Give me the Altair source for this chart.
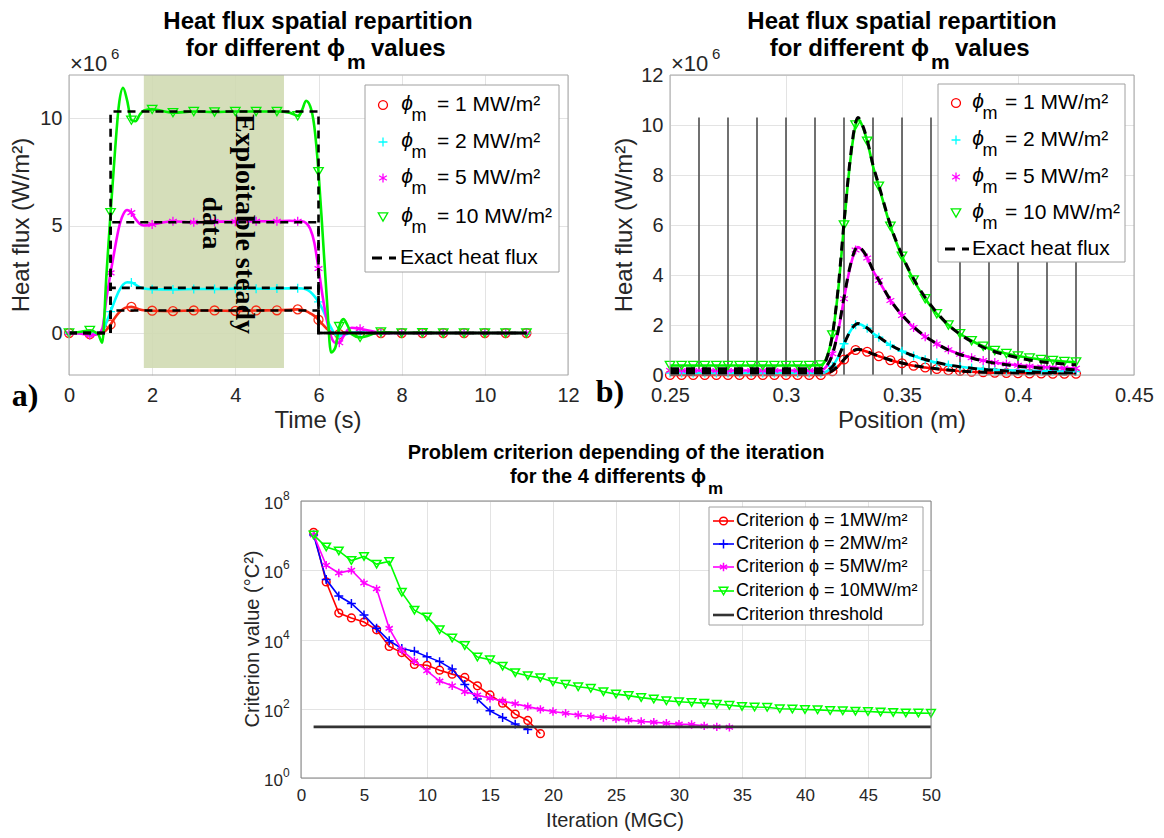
import altair as alt
import pandas as pd

SANS = "Liberation Sans, Arial, Helvetica, sans-serif"
SERIF = "Liberation Serif, Times New Roman, serif"
INK = "#262626"

# ---------------- Panel a : heat flux vs time (values in 1e6 W/m2) ----------------
time_s = [0, 0.25, 0.5, 0.7, 0.8, 0.9, 1.0, 1.1, 1.2, 1.3, 1.4, 1.5, 1.6, 1.7, 1.8, 2.0,
          2.5, 3.0, 3.5, 4.0, 4.5, 5.0, 5.3, 5.5, 5.6, 5.7, 5.8, 5.9, 6.0, 6.1, 6.2, 6.3,
          6.4, 6.5, 6.6, 6.7, 6.8, 7.0, 7.5, 8.0, 8.5, 9.0, 9.5, 10.0, 10.5, 11.0]
flux_a_phi1 = [0, 0, -0.05, -0.02, 0, 0.15, 0.4, 0.7, 0.95, 1.12, 1.2, 1.22, 1.17, 1.1, 1.06, 1.04,
               1.02, 1.05, 1.05, 1.03, 1.05, 1.06, 1.08, 1.1, 1.08, 1.02, 0.92, 0.8, 0.62, 0.4, 0.2, 0.05,
               -0.05, -0.05, 0, 0.02, 0.02, 0, 0, 0, 0, 0, 0, 0, 0, 0]
flux_a_phi2 = [0, 0, -0.03, 0, 0.05, 0.5, 1.0, 1.5, 1.95, 2.25, 2.36, 2.35, 2.25, 2.13, 2.07, 2.04,
               2.03, 2.05, 2.05, 2.06, 2.06, 2.07, 2.08, 2.08, 2.07, 2.03, 1.92, 1.72, 1.45, 1.1, 0.65, 0.25,
               -0.05, -0.12, -0.1, -0.03, 0.02, 0.03, 0, 0, 0, 0, 0, 0, 0, 0]
flux_a_phi5 = [0, -0.02, -0.1, -0.05, 0.2, 1.6, 2.8, 3.9, 4.9, 5.5, 5.72, 5.6, 5.3, 5.08, 5.0, 5.05,
               5.2, 5.15, 5.18, 5.18, 5.2, 5.2, 5.22, 5.2, 5.2, 5.12, 4.85, 4.2, 3.0, 1.7, 0.6, -0.15,
               -0.45, -0.45, -0.15, 0.15, 0.25, 0.2, 0.02, 0, 0, 0, 0, 0, 0, 0]
flux_a_phi10 = [0, 0.05, 0.12, -0.05, -0.45, 2.7, 5.6, 8.3, 10.6, 11.4, 10.8, 9.9, 9.85, 10.15, 10.35, 10.4,
                10.25, 10.3, 10.28, 10.3, 10.3, 10.3, 10.25, 10.1, 10.35, 10.8, 10.55, 9.6, 7.5, 4.6, 1.6, -0.9,
                -0.7, 0.3, 0.65, 0.35, -0.05, -0.2, 0.05, 0, 0.02, 0, 0, 0, 0, 0]
exact_a_levels = [1.05, 2.1, 5.15, 10.3]
exact_a_time = [0, 1, 1, 6, 6, 11]
shade_time = [1.8, 5.17]
shade_flux = [-1.62, 12]

# ---------------- Panel b : heat flux vs position (values in 1e6 W/m2) ----------------
position_m = [0.25, 0.255, 0.26, 0.265, 0.27, 0.275, 0.28, 0.285, 0.29, 0.295, 0.30, 0.305, 0.31, 0.315,
              0.3175, 0.32, 0.3225, 0.325, 0.3275, 0.33, 0.331, 0.3325, 0.335, 0.3375, 0.34,
              0.345, 0.35, 0.355, 0.36, 0.365, 0.37, 0.375, 0.38, 0.385, 0.39, 0.395, 0.40,
              0.405, 0.41, 0.415, 0.42, 0.425]
flux_b_phi1 = [0, 0, 0, 0, 0, 0, 0, 0, 0, 0, 0, 0, 0, 0,
               0.04, 0.15, 0.35, 0.62, 0.86, 1.0, 1.02, 1.0, 0.93, 0.83, 0.75,
               0.59, 0.47, 0.37, 0.3, 0.24, 0.19, 0.16, 0.13, 0.11, 0.09, 0.08, 0.07,
               0.06, 0.06, 0.05, 0.05, 0.05]
flux_b_phi2 = [0.08, 0.08, 0.08, 0.08, 0.08, 0.08, 0.08, 0.08, 0.08, 0.08, 0.08, 0.08, 0.08, 0.08,
               0.14, 0.35, 0.72, 1.25, 1.72, 2.01, 2.05, 2.01, 1.87, 1.67, 1.51,
               1.19, 0.95, 0.76, 0.61, 0.49, 0.4, 0.33, 0.28, 0.24, 0.21, 0.19, 0.18,
               0.17, 0.16, 0.15, 0.15, 0.14]
flux_b_phi5 = [0.18, 0.18, 0.18, 0.18, 0.18, 0.18, 0.18, 0.18, 0.18, 0.18, 0.18, 0.18, 0.18, 0.19,
               0.35, 0.85, 1.75, 3.05, 4.25, 5.0, 5.12, 5.02, 4.68, 4.18, 3.78,
               2.98, 2.38, 1.9, 1.53, 1.24, 1.01, 0.83, 0.69, 0.58, 0.5, 0.44, 0.39,
               0.35, 0.32, 0.3, 0.28, 0.27]
flux_b_phi10 = [0.38, 0.38, 0.38, 0.38, 0.38, 0.38, 0.38, 0.38, 0.38, 0.38, 0.38, 0.38, 0.38, 0.4,
                0.7, 1.6, 3.4, 6.0, 8.4, 10.0, 10.25, 10.05, 9.35, 8.35, 7.55,
                5.95, 4.75, 3.8, 3.05, 2.45, 2.0, 1.65, 1.37, 1.15, 0.98, 0.86, 0.76,
                0.68, 0.62, 0.58, 0.54, 0.52]
exact_b_phi1 = [0.04, 0.04, 0.04, 0.04, 0.04, 0.04, 0.04, 0.04, 0.04, 0.04, 0.04, 0.04, 0.04, 0.04,
                0.07, 0.17, 0.36, 0.62, 0.86, 1.01, 1.03, 1.01, 0.94, 0.84, 0.76,
                0.6, 0.48, 0.38, 0.31, 0.25, 0.2, 0.16, 0.13, 0.11, 0.09, 0.08, 0.07,
                0.06, 0.05, 0.05, 0.04, 0.04]
exact_b_phi2 = [0.08, 0.08, 0.08, 0.08, 0.08, 0.08, 0.08, 0.08, 0.08, 0.08, 0.08, 0.08, 0.08, 0.08,
                0.14, 0.33, 0.71, 1.24, 1.72, 2.02, 2.06, 2.02, 1.88, 1.68, 1.52,
                1.2, 0.96, 0.77, 0.62, 0.5, 0.4, 0.33, 0.27, 0.22, 0.19, 0.16, 0.14,
                0.12, 0.11, 0.1, 0.09, 0.08]
exact_b_phi5 = [0.15, 0.15, 0.15, 0.15, 0.15, 0.15, 0.15, 0.15, 0.15, 0.15, 0.15, 0.15, 0.15, 0.15,
                0.35, 0.82, 1.78, 3.1, 4.3, 5.05, 5.15, 5.05, 4.7, 4.2, 3.8,
                3.0, 2.4, 1.93, 1.55, 1.25, 1.0, 0.82, 0.68, 0.56, 0.47, 0.41, 0.35,
                0.31, 0.28, 0.25, 0.23, 0.21]
exact_b_phi10 = [0.25, 0.25, 0.25, 0.25, 0.25, 0.25, 0.25, 0.25, 0.25, 0.25, 0.25, 0.25, 0.25, 0.25,
                 0.65, 1.6, 3.5, 6.1, 8.5, 10.1, 10.3, 10.1, 9.4, 8.4, 7.6,
                 6.0, 4.8, 3.85, 3.1, 2.5, 2.0, 1.63, 1.34, 1.11, 0.93, 0.8, 0.69,
                 0.6, 0.53, 0.48, 0.44, 0.41]
sensor_positions = [0.2625, 0.275, 0.2875, 0.3, 0.3125, 0.325, 0.3375, 0.35, 0.3625,
                    0.375, 0.3875, 0.4, 0.4125, 0.425]
sensor_top = 10.3

# ---------------- Panel c : criterion vs iteration ----------------
crit_phi1 = [1.25e7, 4.6e5, 5.8e4, 4.2e4, 3.2e4, 1.9e4, 6.3e3, 4.2e3, 1.9e3, 1.8e3, 1.3e3, 1.0e3,
             800, 460, 250, 145, 70, 46, 19]
crit_phi2 = [1.05e7, 5.4e5, 1.8e5, 1.1e5, 5.1e4, 2.1e4, 9.2e3, 5.5e3, 4.6e3, 3.2e3, 2.3e3, 1.4e3,
             500, 190, 87, 56, 36, 25]
crit_phi5 = [1.05e7, 1.4e6, 8.3e5, 1.0e6, 4.3e5, 2.9e5, 2.1e4, 4.9e3, 2.4e3, 1.25e3, 630, 460,
             310, 250, 200, 167, 140, 115, 96, 83, 74, 66, 59, 56, 51, 47, 43, 41, 38, 36,
             35, 32, 30, 29]
crit_phi10 = [1.05e7, 4.7e6, 3.6e6, 1.9e6, 2.5e6, 1.5e6, 1.8e6, 2.3e5, 7.0e4, 4.5e4, 1.9e4, 1.1e4,
              6.7e3, 3.1e3, 2.6e3, 1.7e3, 1.1e3, 900, 780, 600, 510, 430, 390, 310, 265, 240,
              210, 190, 170, 160, 152, 145, 135, 126, 117, 112, 110, 100, 98, 95, 93, 89, 87,
              85, 83, 80, 78, 76, 75, 74]
threshold_value = 30
threshold_iters = [1, 50]
decade_ticks = [1, 1e2, 1e4, 1e6, 1e8]
decade_exponents = ["0", "2", "4", "6", "8"]

# ---------------- helpers ----------------
ONE = pd.DataFrame({"k": [0]})
PLUS = "M-1,0L1,0M0,-1L0,1"
STAR = "M0,-1L0,1M-0.87,-0.5L0.87,0.5M-0.87,0.5L0.87,-0.5"


def txt(s, x, y, size=20, bold=False, italic=False, font=SANS, align="center",
        angle=0, color=INK):
    kw = dict(text=s, font=font, fontSize=size, align=align, baseline="middle", color=color)
    if bold:
        kw["fontWeight"] = "bold"
    if italic:
        kw["fontStyle"] = "italic"
    if angle:
        kw["angle"] = angle
    return alt.Chart(ONE).mark_text(**kw).encode(x=alt.value(x), y=alt.value(y))


def hline(x1, x2, y, color, width=2, dash=None):
    kw = dict(color=color, strokeWidth=width)
    if dash:
        kw["strokeDash"] = dash
    return alt.Chart(ONE).mark_rule(**kw).encode(x=alt.value(x1), x2=alt.value(x2), y=alt.value(y))


def rect(x1, x2, y1, y2, stroke, fill=None, width=1):
    if fill:
        m = alt.Chart(ONE).mark_rect(fill=fill, stroke=stroke, strokeWidth=width)
    else:
        m = alt.Chart(ONE).mark_rect(fillOpacity=0, stroke=stroke, strokeWidth=width)
    return m.encode(x=alt.value(x1), x2=alt.value(x2), y=alt.value(y1), y2=alt.value(y2))


def sym(x, y, shape, color, size, width=1.3):
    return alt.Chart(ONE).mark_point(shape=shape, filled=False, color=color, size=size,
                                     strokeWidth=width, opacity=1).encode(
        x=alt.value(x), y=alt.value(y))


def series(xs, ys, xenc, yenc, color, shape, size, lw, mark_every, interp="monotone", mw=1.3):
    df = pd.DataFrame({"x": xs, "v": ys})
    df["mk"] = [mark_every(x) for x in xs]
    line = alt.Chart(df).mark_line(color=color, strokeWidth=lw, interpolate=interp).encode(
        x=xenc, y=yenc)
    pts = alt.Chart(df[df["mk"]]).mark_point(shape=shape, filled=False, color=color, size=size,
                                             strokeWidth=mw, opacity=1).encode(x=xenc, y=yenc)
    return [line, pts]


# ---------------- Panel a ----------------
WA, HA = 499, 300
xa = alt.X("x:Q", scale=alt.Scale(domain=[0, 12], nice=False, zero=False),
           axis=alt.Axis(values=[0, 2, 4, 6, 8, 10, 12], title=None, ticks=False, domain=False,
                         labelPadding=10, format="d"))
ya = alt.Y("v:Q", scale=alt.Scale(domain=[-1.95, 12], nice=False, zero=False),
           axis=alt.Axis(values=[0, 5, 10], title=None, ticks=False, domain=False,
                         labelPadding=7, format="d"))

shade_df = pd.DataFrame({"x": [shade_time[0]], "x2": [shade_time[1]],
                         "v": [shade_flux[0]], "v2": [shade_flux[1]]})
layers_a = [alt.Chart(shade_df).mark_rect(color="#cfd9b0", opacity=0.88).encode(
    x=xa, x2="x2:Q", y=ya, y2="v2:Q")]

half = lambda t: abs(t * 2 - round(t * 2)) < 1e-9
a_series = [(flux_a_phi1, "#fa2a14", "circle", 80),
            (flux_a_phi2, "#00ffff", PLUS, 80),
            (flux_a_phi5, "#ff00ff", STAR, 80),
            (flux_a_phi10, "#00f000", "triangle-down", 90)]
for ys, col, shp, sz in a_series:
    layers_a += series(time_s, ys, xa, ya, col, shp, sz, 2.6, half)
for lev in exact_a_levels:
    edf = pd.DataFrame({"x": exact_a_time, "v": [0, 0, lev, lev, 0, 0]})
    layers_a.append(alt.Chart(edf).mark_line(color="black", strokeWidth=2.6,
                                             strokeDash=[8, 6]).encode(x=xa, y=ya))

layers_a += [
    txt("Exploitable steady", 175, 149, 28, bold=True, font=SERIF, angle=90, color="black"),
    txt("data", 142, 148, 28, bold=True, font=SERIF, angle=90, color="black"),
    rect(0, WA, 0, HA, "#a6a6a6"),
]


def legend_ab(x1, x2, y1, y2, rows, mx, phix, tx, dash1, dash2, etx):
    L = [rect(x1, x2, y1, y2, "#a0a0a0", fill="white")]
    entries = [("circle", "#ff0000", 80, "= 1 MW/m²"), (PLUS, "#00ffff", 80, "= 2 MW/m²"),
               (STAR, "#ff00ff", 80, "= 5 MW/m²"), ("triangle-down", "#00f000", 90, "= 10 MW/m²")]
    for i, (shp, col, sz, lab) in enumerate(entries):
        y = rows[i]
        L += [sym(mx, y, shp, col, sz),
              txt("ϕ", phix, y - 1, 21, italic=True, color="black"),
              txt("m", phix + 12, y + 11, 18, color="black"),
              txt(lab, tx, y, 21, align="left", color="black")]
    L += [hline(dash1, dash2, rows[4], "black", 3, [10, 7]),
          txt("Exact heat flux", etx, rows[4], 21, align="left", color="black")]
    return L


layers_a += legend_ab(296, 490, 10, 197, [30, 67, 103, 142, 183], 314, 338, 368, 303, 327, 331)
layers_a += [
    txt("Heat flux spatial repartition", 249, -53, 24, bold=True, color="black"),
    txt("for different ϕ", 276, -26, 24, bold=True, align="right", color="black"),
    txt("m", 278, -12, 21, bold=True, align="left", color="black"),
    txt("values", 302, -26, 24, bold=True, align="left", color="black"),
    txt("×10", 1, -11, 22, align="left"),
    txt("6", 42, -21, 15, align="left"),
    txt("Heat flux (W/m²)", -47, 150, 24, angle=270),
    txt("Time (s)", 249, 346, 24),
    txt("a)", -44, 321, 32, bold=True, font=SERIF, color="black"),
]
panel_a = alt.layer(*layers_a).properties(width=WA, height=HA)

# ---------------- Panel b ----------------
WB, HB = 464, 300
xb = alt.X("x:Q", scale=alt.Scale(domain=[0.25, 0.45], nice=False, zero=False),
           axis=alt.Axis(values=[0.25, 0.3, 0.35, 0.4, 0.45], title=None, ticks=False,
                         domain=False, labelPadding=10, format=".2~f"))
yb = alt.Y("v:Q", scale=alt.Scale(domain=[0, 12], nice=False, zero=False),
           axis=alt.Axis(values=[0, 2, 4, 6, 8, 10, 12], title=None, ticks=False, domain=False,
                         labelPadding=7, format="d"))
sens_df = pd.DataFrame({"x": sensor_positions, "v": [0] * len(sensor_positions),
                        "v2": [sensor_top] * len(sensor_positions)})
layers_b = [alt.Chart(sens_df).mark_rule(color="#4d4d4d", strokeWidth=1.6).encode(
    x=xb, y=yb, y2="v2:Q")]
five = lambda p: abs(p * 200 - round(p * 200)) < 1e-6
b_series = [(flux_b_phi1, "#ff0000", "circle", 80),
            (flux_b_phi2, "#00ffff", PLUS, 80),
            (flux_b_phi5, "#ff00ff", STAR, 80),
            (flux_b_phi10, "#00f000", "triangle-down", 90)]
for ys, col, shp, sz in b_series:
    layers_b += series(position_m, ys, xb, yb, col, shp, sz, 2.6, five)
for ys in [exact_b_phi1, exact_b_phi2, exact_b_phi5, exact_b_phi10]:
    edf = pd.DataFrame({"x": position_m, "v": ys})
    layers_b.append(alt.Chart(edf).mark_line(color="black", strokeWidth=3, strokeDash=[9, 7],
                                             interpolate="monotone").encode(x=xb, y=yb))
layers_b.append(rect(0, WB, 0, HB, "#a6a6a6"))
layers_b += legend_ab(268, 455, 9, 187, [28, 65, 102, 138, 174], 286, 308, 335, 275, 299, 302)
layers_b += [
    txt("Heat flux spatial repartition", 232, -53, 24, bold=True, color="black"),
    txt("for different ϕ", 259, -26, 24, bold=True, align="right", color="black"),
    txt("m", 261, -12, 21, bold=True, align="left", color="black"),
    txt("values", 285, -26, 24, bold=True, align="left", color="black"),
    txt("×10", 1, -11, 22, align="left"),
    txt("6", 42, -21, 15, align="left"),
    txt("Heat flux (W/m²)", -45, 150, 24, angle=270),
    txt("Position (m)", 232, 346, 24),
    txt("b)", -60, 317, 32, bold=True, font=SERIF, color="black"),
]
panel_b = alt.layer(*layers_b).properties(width=WB, height=HB)

# ---------------- Panel c ----------------
WC, HC = 630, 277
xc = alt.X("x:Q", scale=alt.Scale(domain=[0, 50], nice=False, zero=False),
           axis=alt.Axis(values=list(range(0, 51, 5)), title=None, ticks=False, domain=False,
                         labelPadding=9, labelFontSize=17, format="d"))
yc = alt.Y("v:Q", scale=alt.Scale(type="log", domain=[1, 1e8], nice=False),
           axis=alt.Axis(values=decade_ticks, title=None, ticks=False, domain=False,
                         labels=False))
every = lambda i: True
layers_c = []
c_series = [(crit_phi1, "#ff0000", "circle", 60),
            (crit_phi2, "#0000ff", PLUS, 80),
            (crit_phi5, "#ff00ff", STAR, 70),
            (crit_phi10, "#00ff00", "triangle-down", 75)]
for ys, col, shp, sz in c_series:
    layers_c += series(list(range(1, len(ys) + 1)), ys, xc, yc, col, shp, sz, 1.6, every,
                       interp="linear", mw=1.5)
thr_df = pd.DataFrame({"x": threshold_iters, "v": [threshold_value] * len(threshold_iters)})
layers_c.append(alt.Chart(thr_df).mark_line(color="#333333", strokeWidth=2.6).encode(x=xc, y=yc))

# y tick labels 10^k drawn through the log scale
dec_df = pd.DataFrame({"v": decade_ticks, "e": decade_exponents})
layers_c.append(alt.Chart(dec_df).mark_text(
    text="10", font=SANS, fontSize=17, color=INK, align="right", baseline="middle", dy=3
).encode(x=alt.value(-18), y=yc))
layers_c.append(alt.Chart(dec_df).mark_text(
    font=SANS, fontSize=12, color=INK, align="left", baseline="middle", dy=-5
).encode(x=alt.value(-18), y=yc, text="e:N"))

layers_c.append(rect(0, WC, 0, HC, "#808080"))
layers_c.append(rect(408, 622, 6, 124, "#a0a0a0", fill="white"))
leg_c = [("circle", "#ff0000", 60, "Criterion ϕ = 1MW/m²"),
         (PLUS, "#0000ff", 80, "Criterion ϕ = 2MW/m²"),
         (STAR, "#ff00ff", 70, "Criterion ϕ = 5MW/m²"),
         ("triangle-down", "#00ff00", 75, "Criterion ϕ = 10MW/m²")]
rows_c = [20, 43, 66, 90, 114]
for i, (shp, col, sz, lab) in enumerate(leg_c):
    layers_c += [hline(412, 433, rows_c[i], col, 1.6), sym(422.5, rows_c[i], shp, col, sz, 1.5),
                 txt(lab, 435, rows_c[i], 18, align="left", color="black")]
layers_c += [hline(412, 433, rows_c[4], "#333333", 2.6),
             txt("Criterion threshold", 435, rows_c[4], 18, align="left", color="black")]
layers_c += [
    txt("Problem criterion depending of the iteration", 315, -48, 20, bold=True, color="black"),
    txt("for the 4 differents ϕ", 405, -24, 20, bold=True, align="right", color="black"),
    txt("m", 407, -12, 17, bold=True, align="left", color="black"),
    txt("Criterion value (°C²)", -48, 138, 20, angle=270),
    txt("Iteration (MGC)", 314, 320, 20),
]
panel_c = alt.layer(*layers_c).properties(width=WC, height=HC)

spacer = alt.Chart(ONE).mark_point(opacity=0).encode(
    x=alt.value(0), y=alt.value(0)).properties(width=232, height=10)

top = alt.hconcat(panel_a, panel_b, spacing=102, bounds="flush")
bottom = alt.hconcat(spacer, panel_c, spacing=0, bounds="flush")
chart = alt.vconcat(top, bottom, spacing=426, bounds="flush").properties(
    padding={"left": 2, "top": 2, "right": 0, "bottom": 0}, background="white"
).configure_view(strokeWidth=0).configure_axis(
    labelFont=SANS, labelFontSize=20, labelColor=INK, gridColor="#e3e3e3", gridWidth=1,
    labelFlush=False
)

chart.save("out.html", embed_options={"renderer": "svg", "actions": False})
